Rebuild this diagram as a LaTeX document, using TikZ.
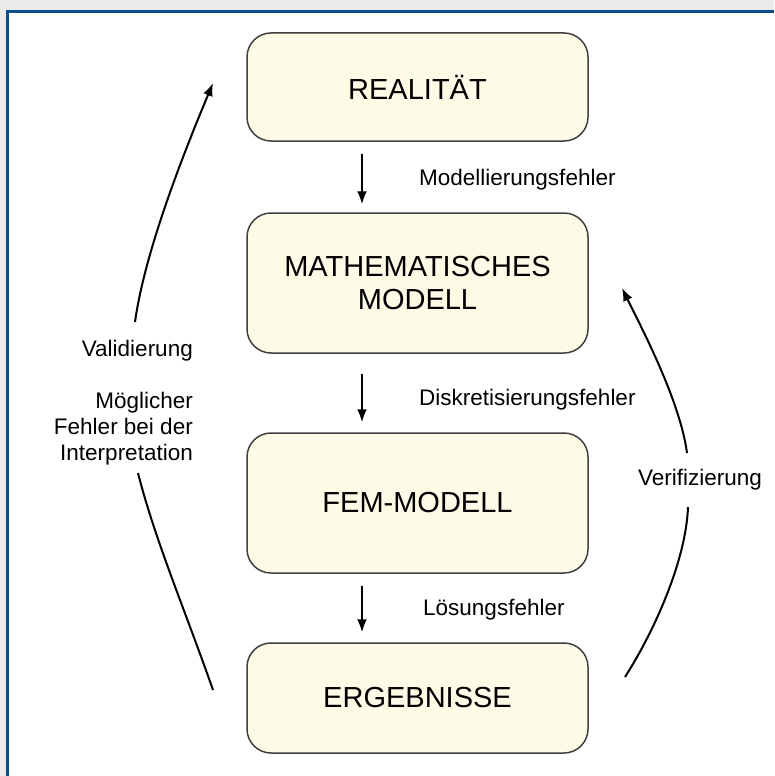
\documentclass[tikz,border=0pt]{standalone}
\usepackage{fontspec}
\setmainfont{Liberation Sans}
\usetikzlibrary{arrows.meta}
\definecolor{boxfill}{HTML}{FDFBE6}
\definecolor{boxline}{HTML}{404040}
\definecolor{frameblue}{HTML}{0B4F8A}
\definecolor{bggray}{HTML}{EBEBEB}
\begin{document}
\begin{tikzpicture}[x=1pt,y=-1pt,
  stagebox/.style={draw=boxline, line width=1.5pt, fill=boxfill, rounded corners=24pt,
    minimum width=341pt, align=center, font=\fontsize{29}{33}\selectfont, inner sep=0pt},
  errlabel/.style={font=\fontsize{22.5}{26}\selectfont, inner sep=0pt, anchor=base west},
  sidelabel/.style={font=\fontsize{22.5}{26}\selectfont, inner sep=0pt, align=right},
  flow/.style={line width=2pt, -{Latex[length=13pt,width=10pt]}},
  loopline/.style={line width=2pt},
  looparrow/.style={line width=2pt, -{Latex[length=13pt,width=10pt]}}
  ]
\useasboundingbox (0,0) rectangle (774,776);
\fill[bggray] (0,0) rectangle (774,776);
\fill[white] (7,10) rectangle (774,776);
\draw[frameblue, line width=3pt] (7.5,776) -- (7.5,11.5) -- (774,11.5);

\node[stagebox, minimum height=108pt] (real) at (417.5,87) {REALITÄT};
\node[stagebox, minimum height=140pt] (math) at (417.5,283) {MATHEMATISCHES\\MODELL};
\node[stagebox, minimum height=140pt] (fem) at (417.5,503) {FEM-MODELL};
\node[stagebox, minimum height=110pt] (erg) at (417.5,698) {ERGEBNISSE};

\draw[flow] ([xshift=-55.5pt,yshift=-12pt]real.south) -- ([xshift=-55.5pt,yshift=8pt]math.north);
\draw[flow] ([xshift=-55.5pt,yshift=-20pt]math.south) -- ([xshift=-55.5pt,yshift=10pt]fem.north);
\draw[flow] ([xshift=-55.5pt,yshift=-12pt]fem.south) -- ([xshift=-55.5pt,yshift=10pt]erg.north);

\node[errlabel] (e1) at (419,185) {Modellierungsfehler};
\node[errlabel] (e2) at (419,405) {Diskretisierungsfehler};
\node[errlabel] (e3) at (423,615) {Lösungsfehler};

\node[sidelabel, anchor=base east] (val) at (193,356) {Validierung};
\node[sidelabel, anchor=north east] (interp) at (193,391.5) {Möglicher\\Fehler bei der\\Interpretation};
\node[sidelabel, anchor=base] (ver) at (700,485) {Verifizierung};

\coordinate (lu1) at (135,322);
\coordinate (lu2) at (213,83);
\coordinate (ll1) at (138,473);
\coordinate (ll2) at (213,690);
\coordinate (ru1) at (687,453);
\coordinate (ru2) at (622,288);
\coordinate (rl1) at (688,507);
\coordinate (rl2) at (625,677);

\draw[looparrow] (lu1) .. controls (145,250) and (185,150) .. (lu2);
\draw[loopline] (ll1) .. controls (155,540) and (185,610) .. (ll2);
\draw[looparrow] (ru1) .. controls (680,400) and (640,325) .. (ru2);
\draw[loopline] (rl1) .. controls (686,560) and (655,630) .. (rl2);
\end{tikzpicture}
\end{document}
